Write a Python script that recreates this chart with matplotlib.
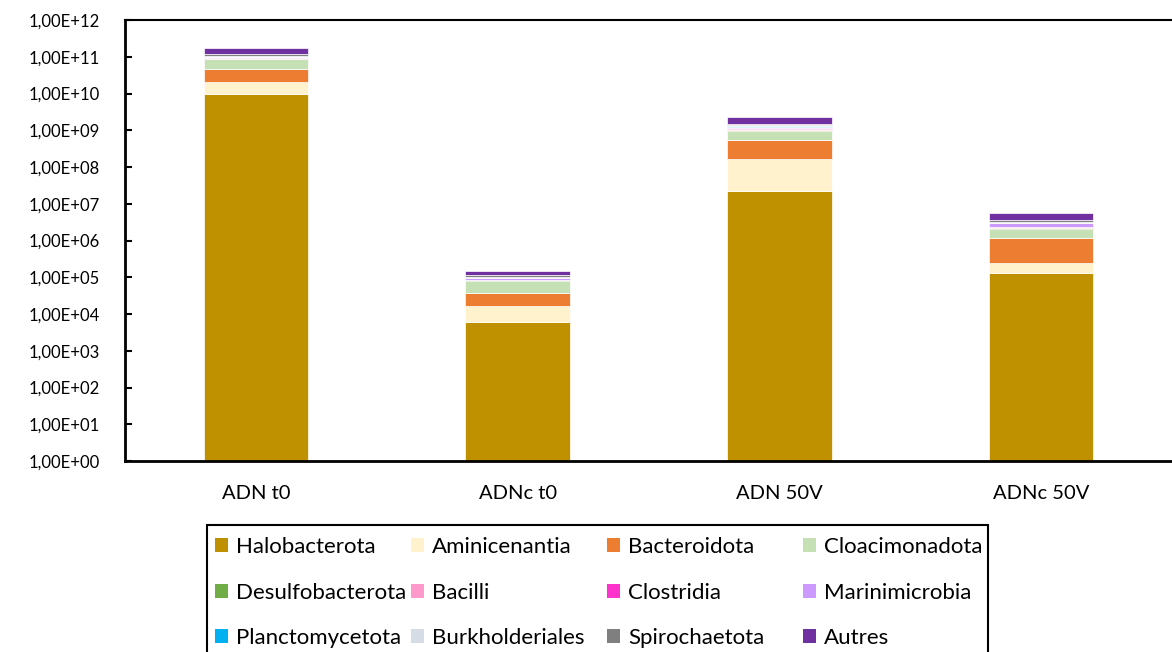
import matplotlib
matplotlib.use("Agg")
import matplotlib.pyplot as plt
from matplotlib.ticker import FixedLocator, FuncFormatter, NullLocator
from matplotlib.patches import Rectangle
import numpy as np

plt.rcParams['font.family'] = ['Lato', 'DejaVu Sans']

categories = ["ADN t0", "ADNc t0", "ADN 50V", "ADNc 50V"]
taxa = ["Halobacterota", "Aminicenantia", "Bacteroidota", "Cloacimonadota",
        "Desulfobacterota", "Bacilli", "Clostridia", "Marinimicrobia",
        "Planctomycetota", "Burkholderiales", "Spirochaetota", "Autres"]
colors = ["#BF9000", "#FFF2CC", "#ED7D31", "#C5E0B4",
          "#70AD47", "#FF99CC", "#FF33CC", "#CC99FF",
          "#00B0F0", "#D6DCE5", "#7F7F7F", "#7030A0"]

halobacterota    = [9.5e9, 6.2e3, 2.2e7, 1.28e5]
aminicenantia    = [1.05e10, 1.07e4, 1.4e8, 1.16e5]
bacteroidota     = [2.6e10, 2.1e4, 3.8e8, 9.3e5]
cloacimonadota   = [3.9e10, 4.3e4, 4.3e8, 9.3e5]
desulfobacterota = [3.5e9, 1.5e3, 5e7, 1.3e5]
bacilli          = [1.5e9, 1.0e3, 6e7, 5e4]
clostridia       = [1.0e9, 0.5e3, 4e7, 3e4]
marinimicrobia   = [7e9, 1.0e4, 1.2e8, 6.2e5]
planctomycetota  = [0.5e9, 0.5e3, 6e7, 3e4]
burkholderiales  = [6e9, 5e3, 6e7, 2.2e5]
spirochaetota    = [1.7e10, 1.5e4, 1.2e8, 4.2e5]
autres           = [4.9e10, 3.3e4, 7.7e8, 2.0e6]

series = [halobacterota, aminicenantia, bacteroidota, cloacimonadota,
          desulfobacterota, bacilli, clostridia, marinimicrobia,
          planctomycetota, burkholderiales, spirochaetota, autres]

W, H = 1172, 652
fig = plt.figure(figsize=(W/100, H/100), dpi=100)
ax = fig.add_axes([125/W, 1-461/H, 1-125/W, (461-20)/H])

x = np.arange(len(categories))
bottom = np.ones(len(categories))
handles = []
for name, vals, col in zip(taxa, series, colors):
    vals = np.array(vals, dtype=float)
    h = ax.bar(x, vals, width=0.4, bottom=bottom, color=col, label=name,
               edgecolor='white', linewidth=0.5)
    handles.append(h)
    bottom = bottom + vals

ax.set_yscale('log')
ax.set_ylim(1, 1e12)
ax.set_xlim(-0.5, 3.5)
ax.yaxis.set_major_locator(FixedLocator([10.0**k for k in range(13)]))
ax.yaxis.set_minor_locator(NullLocator())

def fmt(v, pos):
    e = int(round(np.log10(v)))
    return "1,00E+%02d" % e
ax.yaxis.set_major_formatter(FuncFormatter(fmt))
ax.set_xticks(x)
ax.set_xticklabels(categories)

ax.tick_params(axis='y', direction='in', length=5, width=1.5, pad=18, labelsize=12)
ax.tick_params(axis='x', length=0, pad=17, labelsize=14.5)
for s in ['left', 'bottom']:
    ax.spines[s].set_linewidth(2)
    ax.spines[s].set_color('black')
ax.spines['top'].set_linewidth(1.5)
ax.spines['right'].set_visible(False)

# Legend: 4 equal-width columns, row-major order, inside a black frame
frame = Rectangle((207/W, -0.05), (988-207)/W, 0.05 + (1-525/H),
                  transform=fig.transFigure, fill=False, edgecolor='black',
                  linewidth=1.5, clip_on=False)
fig.patches.append(frame)
col_x = [215, 411, 607, 803]
for j, cx in enumerate(col_x):
    idx = [j, j+4, j+8]
    leg = fig.legend(handles=[handles[i] for i in idx],
                     labels=[taxa[i] for i in idx], ncol=1,
                     loc='upper left', bbox_to_anchor=(cx/W, 1-537/H),
                     frameon=False, fontsize=16,
                     handlelength=0.6, handleheight=0.6, handletextpad=0.35,
                     labelspacing=1.15, borderpad=0, borderaxespad=0)
    for p in leg.get_patches():
        p.set_edgecolor('none')

fig.savefig("out.png", dpi=100)
